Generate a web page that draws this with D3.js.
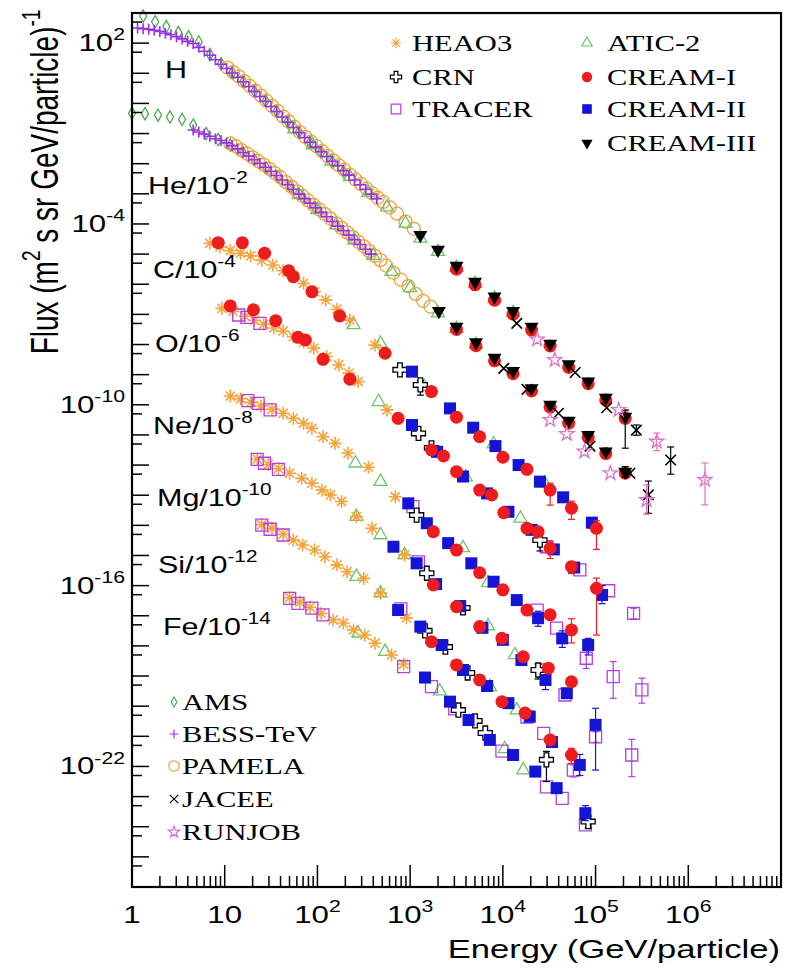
<!DOCTYPE html>
<meta charset="utf-8">
<style>
  body { margin: 0; background: #fff; }
</style>
<svg width="796" height="968"></svg>
<script src="https://d3js.org/d3.v7.min.js"></script>
<script>

// every point is [log10 E (GeV/particle), log10 flux as plotted, optional err low, err high]
const hAMS = [[0.12,2.90],[0.25,2.71],[0.37,2.55],[0.50,2.35],[0.61,2.21],[0.72,2.04],[0.84,1.62],[0.96,1.32],[1.08,1.02],[1.20,0.72],[1.32,0.40],[1.44,0.08],[1.56,-0.26],[1.68,-0.60],[1.80,-0.96],[1.92,-1.30],[2.04,-1.62],[2.16,-1.95],[2.28,-2.26]];
const hBESS = [[0.06,2.50],[0.12,2.48],[0.18,2.46],[0.24,2.43],[0.30,2.39],[0.36,2.33],[0.42,2.28],[0.48,2.21],[0.54,2.14],[0.60,2.06],[0.66,1.99],[0.72,1.86],[0.78,1.73],[0.84,1.60],[0.90,1.45],[0.96,1.30],[1.02,1.16],[1.08,1.01],[1.14,0.87],[1.20,0.72],[1.26,0.56],[1.32,0.40],[1.38,0.23],[1.44,0.07],[1.50,-0.10],[1.56,-0.27],[1.62,-0.45],[1.68,-0.62],[1.74,-0.80],[1.80,-0.97],[1.86,-1.13],[1.92,-1.29],[1.98,-1.45],[2.04,-1.60],[2.10,-1.76],[2.16,-1.92],[2.22,-2.07],[2.28,-2.23],[2.34,-2.38],[2.40,-2.54],[2.46,-2.70],[2.52,-2.85],[2.58,-3.01],[2.64,-3.16]];
const hPAMELA = [[1.03,1.19],[1.09,1.04],[1.15,0.90],[1.21,0.74],[1.27,0.58],[1.33,0.42],[1.39,0.26],[1.45,0.09],[1.51,-0.08],[1.57,-0.25],[1.63,-0.43],[1.69,-0.60],[1.75,-0.78],[1.81,-0.95],[1.87,-1.11],[1.93,-1.27],[1.99,-1.42],[2.05,-1.58],[2.11,-1.74],[2.17,-1.89],[2.23,-2.05],[2.29,-2.20],[2.35,-2.36],[2.41,-2.52],[2.47,-2.67],[2.53,-2.83],[2.59,-2.98],[2.65,-3.13],[2.71,-3.27],[2.78,-3.45],[2.86,-3.66],[2.95,-3.92],[3.04,-4.16]];
const hATIC = [[1.75,-0.85],[1.95,-1.38],[2.15,-1.92],[2.35,-2.44],[2.55,-2.96],[2.75,-3.44],[2.95,-3.98],[3.11,-4.48],[3.30,-4.92],[3.50,-5.45],[3.70,-5.98],[3.91,-6.47],[4.11,-6.95]];
const hCREAM3 = [[3.11,-4.37],[3.30,-4.86],[3.50,-5.39],[3.70,-5.92],[3.91,-6.41],[4.11,-6.89],[4.31,-7.41],[4.51,-7.98],[4.71,-8.66],[4.92,-9.23],[5.11,-9.77],[5.32,-10.40,-11.44,-10.17]];
const hCREAM1 = [[3.50,-5.50],[3.70,-6.02],[3.91,-6.53],[4.11,-6.99],[4.31,-7.52],[4.51,-8.05],[4.71,-8.76],[4.92,-9.30],[5.11,-9.85,-10.00,-9.65],[5.32,-10.45,-10.60,-10.20]];
const hJACEE = [[4.15,-7.30],[4.78,-8.93],[5.12,-10.10],[5.44,-10.84,-11.01,-10.67],[5.81,-11.83,-12.30,-11.40]];
const hRUNJOB = [[4.37,-7.83],[4.56,-8.51],[5.25,-10.17],[5.66,-11.22,-11.52,-10.94],[6.18,-12.49,-13.32,-11.93]];

const heAMS = [[0.00,-0.33],[0.14,-0.34],[0.28,-0.39],[0.41,-0.45],[0.54,-0.53],[0.66,-0.72],[0.80,-1.00],[0.93,-1.20],[1.06,-1.38],[1.19,-1.60],[1.32,-1.87],[1.45,-2.14],[1.58,-2.44],[1.71,-2.78],[1.84,-3.10],[1.97,-3.43]];
const heBESS = [[0.66,-0.88],[0.72,-0.95],[0.78,-1.02],[0.84,-1.09],[0.90,-1.17],[0.96,-1.23],[1.02,-1.31],[1.08,-1.40],[1.14,-1.51],[1.20,-1.63],[1.26,-1.75],[1.32,-1.87],[1.38,-1.99],[1.44,-2.12],[1.50,-2.25],[1.56,-2.39],[1.62,-2.54],[1.68,-2.70],[1.74,-2.85],[1.80,-3.01],[1.86,-3.16],[1.92,-3.31],[1.98,-3.46],[2.04,-3.61],[2.10,-3.76],[2.16,-3.92],[2.22,-4.07],[2.28,-4.22],[2.34,-4.37],[2.40,-4.52],[2.46,-4.68],[2.52,-4.84],[2.58,-5.00]];
const hePAMELA = [[1.06,-1.33],[1.12,-1.42],[1.18,-1.55],[1.24,-1.67],[1.30,-1.79],[1.36,-1.91],[1.42,-2.03],[1.48,-2.17],[1.54,-2.31],[1.60,-2.45],[1.66,-2.61],[1.72,-2.76],[1.78,-2.92],[1.84,-3.07],[1.90,-3.22],[1.96,-3.37],[2.02,-3.52],[2.08,-3.67],[2.14,-3.82],[2.20,-3.98],[2.26,-4.13],[2.32,-4.28],[2.38,-4.43],[2.44,-4.59],[2.50,-4.74],[2.56,-4.90],[2.62,-5.06],[2.68,-5.20],[2.74,-5.38],[2.82,-5.62],[2.90,-5.85],[2.98,-6.06],[3.06,-6.32],[3.14,-6.55],[3.22,-6.74]];
const heATIC = [[1.80,-3.03],[2.00,-3.53],[2.20,-4.04],[2.40,-4.54],[2.60,-5.05],[2.80,-5.58],[3.00,-6.12],[3.30,-6.96],[3.50,-7.47],[3.71,-8.00]];
const heCREAM3 = [[3.31,-6.89],[3.50,-7.41],[3.71,-7.93],[3.91,-8.44],[4.11,-8.88],[4.31,-9.45],[4.51,-10.00],[4.71,-10.53],[4.92,-11.00],[5.11,-11.55],[5.32,-12.22,-12.40,-12.05]];
const heCREAM1 = [[3.50,-7.50],[3.71,-8.04],[3.91,-8.54],[4.11,-8.97],[4.31,-9.54],[4.51,-10.08],[4.71,-10.61],[4.92,-11.08],[5.11,-11.62],[5.32,-12.27]];
const heJACEE = [[4.01,-8.79],[4.26,-9.49],[4.60,-10.28],[4.94,-11.37],[5.37,-12.27],[5.57,-12.99,-13.60,-12.53]];
const heRUNJOB = [[4.51,-10.50],[4.69,-10.97],[4.88,-11.55],[5.16,-12.27],[5.55,-13.16,-13.63,-12.66]];

const cHEAO3 = [[0.84,-4.64],[0.95,-4.76],[1.06,-4.88],[1.17,-4.97],[1.28,-5.06],[1.40,-5.20],[1.52,-5.36],[1.63,-5.55],[1.74,-5.75],[1.85,-5.97],[1.97,-6.25],[2.09,-6.52],[2.21,-6.83],[2.35,-7.19],[2.62,-8.02]];
const cCREAM1 = [[0.93,-4.62],[1.19,-4.62],[1.43,-4.97],[1.69,-5.55],[1.74,-5.75],[1.94,-6.25],[2.24,-7.05],[2.73,-8.29],[3.23,-9.56],[3.50,-10.41],[3.75,-11.06],[4.00,-11.74],[4.26,-12.14],[4.51,-12.83,-13.33,-12.60],[4.74,-13.43,-13.80,-13.20],[5.01,-14.10,-14.80,-13.85]];
const cCREAM2 = [[3.02,-8.90],[3.43,-10.12],[3.68,-10.76],[3.92,-11.37],[4.17,-12.00],[4.40,-12.55],[4.65,-13.07],[4.96,-13.91,-14.10,-13.75]];
const cATIC = [[2.39,-7.35],[2.68,-7.96],[3.15,-9.40],[3.90,-11.30],[4.45,-12.60]];
const cCRN = [[2.89,-8.84],[3.11,-9.34,-9.68,-9.20]];

const oHEAO3 = [[0.97,-6.80],[1.09,-6.90],[1.22,-7.06],[1.32,-7.20],[1.42,-7.33],[1.53,-7.45],[1.63,-7.55],[1.74,-7.74],[1.85,-7.92],[1.96,-8.12],[2.10,-8.40],[2.23,-8.68],[2.34,-8.95],[2.44,-9.23],[2.75,-10.17]];
const oCREAM1 = [[1.06,-6.72],[1.31,-6.85],[1.55,-7.21],[1.79,-7.76],[1.87,-7.85],[2.06,-8.49],[2.35,-9.15],[2.87,-10.45],[3.23,-11.50],[3.36,-11.70],[3.50,-12.22],[3.75,-12.83],[3.88,-12.99],[4.01,-13.58],[4.26,-14.10],[4.38,-14.21],[4.51,-14.76,-15.10,-14.55],[4.74,-15.37,-15.60,-15.20],[5.01,-16.09,-17.64,-15.75]];
const oTRACER = [[1.15,-7.02],[1.24,-7.10],[1.38,-7.30],[4.47,-14.71],[4.83,-15.48],[5.14,-16.17],[5.41,-16.92,-17.10,-16.75]];
const oCREAM2 = [[3.02,-10.67],[3.29,-11.56],[3.57,-12.38],[3.83,-12.94],[4.06,-13.55],[4.31,-14.15],[4.55,-14.80],[4.77,-15.40],[5.07,-16.31,-16.60,-16.00]];
const oCRN = [[3.09,-10.95],[3.23,-11.43],[4.40,-14.49,-14.85,-14.30]];
const oATIC = [[2.66,-9.90],[3.60,-12.40],[4.19,-13.77]];

const neHEAO3 = [[1.06,-9.71],[1.17,-9.80],[1.28,-9.92],[1.39,-10.04],[1.51,-10.15],[1.63,-10.28],[1.74,-10.45],[1.85,-10.61],[1.94,-10.78],[2.06,-11.06],[2.19,-11.28],[2.33,-11.61],[2.55,-12.07],[2.84,-13.05]];
const neTRACER = [[1.25,-9.86],[1.36,-9.95],[1.49,-10.17],[3.03,-13.38],[4.37,-16.81],[4.58,-17.41],[4.90,-18.41,-18.75,-18.10],[5.19,-19.02,-19.74,-18.52],[5.50,-19.46,-19.90,-19.07]];
const neCREAM2 = [[2.98,-13.27],[3.18,-13.93],[3.41,-14.59],[3.66,-15.26],[3.90,-15.87],[4.15,-16.48],[4.38,-17.08,-17.35,-16.85],[4.64,-17.75,-18.05,-17.50],[4.92,-17.97,-18.30,-17.75]];
const neCREAM1 = [[3.25,-14.21],[3.50,-14.82],[3.75,-15.57],[4.00,-16.14],[4.26,-16.81],[4.51,-16.97],[4.74,-17.47,-17.90,-17.10]];
const neCRN = [[3.07,-13.66]];
const neATIC = [[2.41,-11.94],[2.68,-12.55],[3.57,-14.75],[3.84,-15.91]];

const mgTRACER = [[1.35,-11.81],[1.43,-11.94],[1.58,-12.14],[3.09,-15.21],[4.43,-18.80],[4.67,-19.63],[5.00,-21.02,-21.20,-20.85],[5.39,-21.62,-22.34,-21.10]];
const mgHEAO3 = [[1.35,-11.80],[1.47,-11.98],[1.58,-12.12],[1.70,-12.27],[1.83,-12.44],[1.94,-12.60],[2.05,-12.83],[2.14,-12.99],[2.26,-13.21],[2.42,-13.71],[2.59,-14.10],[2.94,-14.98]];
const mgATIC = [[2.42,-13.71],[2.68,-14.32],[2.94,-14.98],[3.84,-17.34],[4.13,-18.30]];
const mgCREAM2 = [[2.82,-14.71],[3.07,-15.26],[3.28,-15.95],[3.54,-16.68],[3.78,-17.40],[4.00,-17.80],[4.20,-18.47],[4.46,-19.13,-19.45,-18.85],[4.69,-19.57],[5.00,-20.62,-22.12,-20.07]];
const mgCREAM1 = [[3.25,-15.98],[3.50,-16.70],[3.75,-17.36],[3.99,-17.75],[4.22,-18.36],[4.49,-18.74],[4.74,-19.19]];
const mgCRN = [[3.18,-15.59],[3.57,-16.74],[4.38,-18.80,-19.10,-18.60]];

const siTRACER = [[1.40,-13.99],[1.49,-14.13],[1.63,-14.32],[2.90,-16.77],[4.26,-20.36],[4.44,-20.90],[4.76,-22.12,-22.35,-21.95]];
const siHEAO3 = [[1.40,-13.98],[1.51,-14.10],[1.63,-14.30],[1.74,-14.49],[1.84,-14.65],[1.97,-14.82],[2.08,-15.04],[2.21,-15.31],[2.32,-15.54],[2.50,-15.76],[2.68,-16.25],[2.96,-17.07]];
const siATIC = [[2.42,-15.70],[2.68,-16.25],[3.86,-19.36],[4.15,-20.13]];
const siCREAM2 = [[2.87,-16.81],[3.11,-17.36],[3.34,-17.97],[3.57,-18.80],[3.83,-19.33],[4.06,-19.90],[4.29,-20.35],[4.53,-21.19],[4.83,-21.95,-22.30,-21.60]];
const siCREAM1 = [[3.23,-17.86],[3.50,-18.63],[3.75,-19.13],[3.99,-19.85],[4.24,-20.23],[4.51,-21.12],[4.74,-21.62,-21.90,-21.40]];
const siCRN = [[3.16,-17.50],[3.38,-18.04],[3.62,-18.90]];

const feTRACER = [[1.70,-16.42],[1.79,-16.59],[1.94,-16.75],[2.06,-16.97],[2.93,-18.69],[3.23,-19.35],[3.48,-20.09],[3.99,-21.49],[4.47,-22.68],[4.64,-23.06],[4.89,-23.94]];
const feHEAO3 = [[1.70,-16.40],[1.81,-16.55],[1.92,-16.72],[2.04,-16.92],[2.17,-17.14],[2.28,-17.24],[2.39,-17.47],[2.51,-17.64],[2.62,-17.91],[2.80,-18.30],[2.93,-18.60]];
const feATIC = [[2.44,-17.58],[2.73,-18.19],[3.32,-19.50],[4.02,-21.42],[4.22,-22.12]];
const feCREAM2 = [[3.16,-19.05],[3.43,-19.85],[3.63,-20.46],[3.86,-21.12],[4.11,-21.62],[4.35,-22.17],[4.58,-22.72],[4.89,-23.55,-23.80,-23.30]];
const feCRN = [[3.52,-20.13],[3.70,-20.49],[3.81,-20.89],[4.47,-21.78,-22.50,-21.50],[4.92,-23.83,-24.05,-23.65]];

// element tags and their scale exponents
const elemNames = ["H", "He", "C", "O", "Ne", "Mg", "Si", "Fe"];
const elemScale = ["", "-2", "-4", "-6", "-8", "-10", "-12", "-14"];
const yLabelExp = [2, -4, -10, -16, -22];
const xLabelExp = [0, 1, 2, 3, 4, 5, 6];
const legendTopLeft = ["HEAO3", "CRN", "TRACER"];
const legendTopRight = ["ATIC-2", "CREAM-I", "CREAM-II", "CREAM-III"];
const legendBottom = ["AMS", "BESS-TeV", "PAMELA", "JACEE", "RUNJOB"];

// drawing order (later on top)
const seriesByExp = [
    ["AMS", [hAMS, heAMS]],
    ["PAMELA", [hPAMELA, hePAMELA]],
    ["ATIC-2", [hATIC, heATIC, cATIC, oATIC, neATIC, mgATIC, siATIC, feATIC]],
    ["BESS-TeV", [hBESS, heBESS]],
    ["HEAO3", [cHEAO3, oHEAO3, neHEAO3, mgHEAO3, siHEAO3, feHEAO3]],
    ["TRACER", [oTRACER, neTRACER, mgTRACER, siTRACER, feTRACER]],
    ["CRN", [cCRN, oCRN, neCRN, mgCRN, siCRN, feCRN]],
    ["CREAM-II", [cCREAM2, oCREAM2, neCREAM2, mgCREAM2, siCREAM2, feCREAM2]],
    ["CREAM-I", [hCREAM1, heCREAM1, cCREAM1, oCREAM1, neCREAM1, mgCREAM1, siCREAM1]],
    ["CREAM-III", [hCREAM3, heCREAM3]],
    ["JACEE", [hJACEE, heJACEE]],
    ["RUNJOB", [hRUNJOB, heRUNJOB]]
];

const styles = {
    "AMS":       {shape: "diamond",  size: 44,  color: "#4cae4c", fill: "none"},
    "BESS-TeV":  {shape: "plus",     r: 5.5,    color: "#9b30e8"},
    "PAMELA":    {shape: "circle",   r: 6.5,    color: "#e9a23b", fill: "none"},
    "HEAO3":     {shape: "asterisk", r: 6.5,    color: "#f5a33c"},
    "ATIC-2":    {shape: "triangle", side: 13,  color: "#6cc46c", fill: "none"},
    "TRACER":    {shape: "square",   side: 12,  color: "#b43fdc", fill: "none"},
    "CRN":       {shape: "cross",    w: 14,     color: "#000",    fill: "#fff"},
    "CREAM-II":  {shape: "square",   side: 12,  color: "#1414d6", fill: "solid"},
    "CREAM-I":   {shape: "circle",   r: 6.5,    color: "#ee1c1c", fill: "solid"},
    "CREAM-III": {shape: "tridown",  side: 14,  color: "#000",    fill: "solid"},
    "JACEE":     {shape: "times",    r: 7,      color: "#000"},
    "RUNJOB":    {shape: "star",     r: 7.5,    color: "#e070cc", fill: "none"}
};

const svg = d3.select("svg");
const x = d3.scaleLog().domain([1, 1e7]).range([132, 781]);
const y = d3.scaleLog().domain([1e-26, 1e3]).range([887, 13]);
const sans = "'Liberation Sans', Arial, Helvetica, sans-serif";
const serif = "'Liberation Serif', 'Times New Roman', serif";

function markerPath(st, s) {
    s = s || 1;
    switch (st.shape) {
        case "circle": return d3.symbol(d3.symbolCircle, Math.PI * Math.pow(st.r * s, 2))();
        case "square": return d3.symbol(d3.symbolSquare, Math.pow(st.side * s, 2))();
        case "diamond": return d3.symbol(d3.symbolDiamond, st.size * s * s)();
        case "triangle":
        case "tridown": return d3.symbol(d3.symbolTriangle, Math.pow(st.side * s, 2) * Math.sqrt(3) / 4)();
        case "cross": return d3.symbol(d3.symbolCross, 5 * Math.pow(st.w * s / 3, 2))();
        case "star": return d3.symbol(d3.symbolStar, Math.pow(st.r * s, 2) / 0.8908)();
        case "plus": { const r = st.r * s; return `M${-r},0H${r}M0,${-r}V${r}`; }
        case "times": { const r = st.r * s * 0.75; return `M${-r},${-r}L${r},${r}M${-r},${r}L${r},${-r}`; }
        case "asterisk": {
            const r = st.r * s, q = r * Math.SQRT1_2;
            return `M${-r},0H${r}M0,${-r}V${r}M${-q},${-q}L${q},${q}M${-q},${q}L${q},${-q}`;
        }
    }
}

const isLine = st => st.shape === "asterisk" || st.shape === "plus" || st.shape === "times";

// text with superscripts, horizontally stretched like the original raster
function richText(parent, px, py, parts, o) {
    const g = parent.append("g")
        .attr("transform", `translate(${px},${py}) scale(${o.k},1)` + (o.rotate ? ` rotate(${o.rotate})` : ""));
    const t = g.append("text")
        .attr("font-family", o.family)
        .attr("font-size", o.size)
        .attr("text-anchor", o.anchor || "start")
        .attr("fill", "#000");
    let shift = 0;
    parts.forEach(p => {
        const sup = Array.isArray(p);
        const target = sup ? -0.45 * o.size : 0;
        t.append("tspan")
            .attr("dy", target - shift)
            .attr("font-size", sup ? o.size * 0.68 : o.size)
            .text(sup ? p[0] : p);
        shift = target;
    });
    return t;
}

// ---- data
const plot = svg.append("g");
seriesByExp.forEach(([exp, list]) => {
    const st = styles[exp];
    const g = plot.append("g").attr("class", "exp");
    list.forEach(pts => {
        const withErr = pts.filter(d => d.length > 2);
        const eb = g.selectAll(null).data(withErr).enter().append("g")
            .attr("stroke", st.color).attr("stroke-width", 1.2).attr("fill", "none");
        eb.append("line")
            .attr("x1", d => x(10 ** d[0])).attr("x2", d => x(10 ** d[0]))
            .attr("y1", d => y(10 ** d[2])).attr("y2", d => y(10 ** d[3]));
        [2, 3].forEach(i => {
            eb.append("line")
                .attr("x1", d => x(10 ** d[0]) - 3.5).attr("x2", d => x(10 ** d[0]) + 3.5)
                .attr("y1", d => y(10 ** d[i])).attr("y2", d => y(10 ** d[i]));
        });

        const solid = st.fill === "solid";
        g.selectAll(null).data(pts).enter().append("path")
            .attr("d", markerPath(st))
            .attr("transform", d => `translate(${x(10 ** d[0])},${y(10 ** d[1])})` + (st.shape === "tridown" ? " rotate(180)" : ""))
            .attr("fill", solid ? st.color : (st.fill || "none"))
            .attr("stroke", solid ? "none" : st.color)
            .attr("stroke-width", isLine(st) ? 1.6 : 1.3);
    });
});

// ---- frame and ticks
const [x0, x1] = x.range();
const [y0, y1] = y.range();
const axes = svg.append("g").attr("stroke", "#000");
x.ticks().forEach(t => {
    const lg = Math.log10(t);
    const major = Math.abs(lg - Math.round(lg)) < 1e-6;
    axes.append("line").attr("x1", x(t)).attr("x2", x(t))
        .attr("y1", y0).attr("y2", y0 - (major ? 22 : 11)).attr("stroke-width", 1.5);
});
d3.range(-26, 4).forEach(e => {
    axes.append("line").attr("x1", x0).attr("x2", x0 + 17)
        .attr("y1", y(10 ** e)).attr("y2", y(10 ** e)).attr("stroke-width", 1.5);
    if (e < 3) {
        axes.append("line").attr("x1", x0).attr("x2", x0 + 10)
            .attr("y1", y(5 * 10 ** e)).attr("y2", y(5 * 10 ** e)).attr("stroke-width", 1.5);
    }
});
svg.append("rect")
    .attr("x", x0).attr("y", y1).attr("width", x1 - x0).attr("height", y0 - y1)
    .attr("fill", "none").attr("stroke", "#000").attr("stroke-width", 2.2);

// ---- tick labels
xLabelExp.forEach(n => {
    const parts = n === 0 ? ["1"] : n === 1 ? ["10"] : ["10", [String(n)]];
    richText(svg, x(10 ** n), 923, parts, {family: sans, size: 24, k: 1.3, anchor: "middle"});
});
yLabelExp.forEach(e => {
    richText(svg, 125, y(10 ** e) + 8, ["10", [String(e)]], {family: sans, size: 24, k: 1.3, anchor: "end"});
});

// ---- axis titles
richText(svg, 780, 958, ["Energy (GeV/particle)"], {family: sans, size: 26, k: 1.33, anchor: "end"});
richText(svg, 58, 182, ["Flux (m", ["2"], " s sr GeV/particle)", ["-1"]],
    {family: sans, size: 28, k: 1.4, anchor: "middle", rotate: -90});

// ---- element labels
const elemPos = [[165, 78], [148, 194], [153, 278], [155, 352], [153, 434], [157, 506], [158, 573], [163, 635]];
elemNames.forEach((nm, i) => {
    const parts = elemScale[i] ? [nm + "/10", [elemScale[i]]] : [nm];
    richText(svg, elemPos[i][0], elemPos[i][1], parts, {family: sans, size: 24, k: 1.27});
});

// ---- legends
function legendBlock(names, mx, tx, ys) {
    names.forEach((nm, i) => {
        const st = styles[nm];
        const solid = st.fill === "solid";
        svg.append("path")
            .attr("d", markerPath(st, 0.8))
            .attr("transform", `translate(${mx},${ys[i]})` + (st.shape === "tridown" ? " rotate(180)" : ""))
            .attr("fill", solid ? st.color : (st.fill || "none"))
            .attr("stroke", solid ? "none" : st.color)
            .attr("stroke-width", 1.2);
        richText(svg, tx, ys[i] + 8, [nm], {family: serif, size: 23, k: 1.33});
    });
}
legendBlock(legendTopLeft, 396, 412, [43, 77, 109]);
legendBlock(legendTopRight, 587, 607, [43, 77, 109, 143]);
legendBlock(legendBottom, 174, 182, [702, 734, 766, 799, 832]);

</script>
